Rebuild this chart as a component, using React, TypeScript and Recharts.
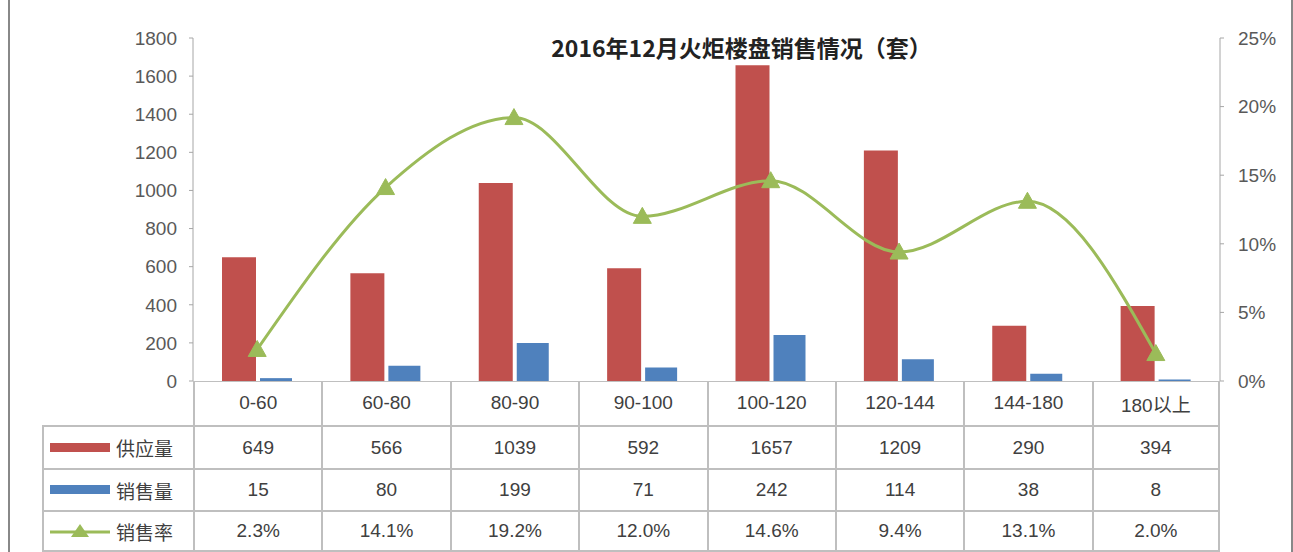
import React from 'react';
import { Bar, ComposedChart, Line, XAxis, YAxis } from 'recharts';

const categories = ['0-60', '60-80', '80-90', '90-100', '100-120', '120-144', '144-180', '180以上'];
const supply = [649, 566, 1039, 592, 1657, 1209, 290, 394];
const sales = [15, 80, 199, 71, 242, 114, 38, 8];
const rate = [2.3, 14.1, 19.2, 12.0, 14.6, 9.4, 13.1, 2.0];
const leftTicks = [0, 200, 400, 600, 800, 1000, 1200, 1400, 1600, 1800];
const rightTicks = [0, 5, 10, 15, 20, 25];

const RED = '#c0504d';
const BLUE = '#4f81bd';
const GREEN = '#9bbb59';
const GRID = '#bfbfbf';
const TEXT = '#595959';
const FONT = '"Liberation Sans Narrow", "Liberation Sans", "Noto Sans CJK SC", sans-serif';

const data = categories.map((name, i) => ({
  name,
  supply: supply[i],
  sales: sales[i],
  rate: rate[i]
}));

// plot area edges
const PLOT_LEFT = 193;
const PLOT_RIGHT = 1220;
const PLOT_TOP = 38;
const PLOT_BOTTOM = 381;
const CHART_H = 405;
const COL_W = (PLOT_RIGHT - PLOT_LEFT) / categories.length;

const Triangle = (props: any) => {
  const { cx, cy } = props;
  if (cx == null || cy == null) return null;
  return (
    <path
      d={`M${cx},${cy - 9} L${cx + 9},${cy + 7} L${cx - 9},${cy + 7} Z`}
      fill={GREEN}
      stroke={GREEN}
    />
  );
};

const rows = [
  { label: '供应量', values: supply.map(String), kind: 'bar', color: RED },
  { label: '销售量', values: sales.map(String), kind: 'bar', color: BLUE },
  { label: '销售率', values: rate.map((v) => v.toFixed(1) + '%'), kind: 'line', color: GREEN }
];

const rowTops = [425, 468, 510];
const rowH = [43, 42, 42];

const App: React.FC = () => {
  return (
    <div
      style={{
        position: 'absolute',
        left: 0,
        top: 0,
        width: 1293,
        height: 552,
        background: '#fff',
        fontFamily: FONT,
        overflow: 'hidden'
      }}
    >
      <div
        style={{
          position: 'absolute',
          left: 8,
          top: 0,
          width: 1281,
          height: 552,
          borderLeft: '2px solid #888',
          borderRight: '2px solid #888'
        }}
      />
      <ComposedChart
        width={1293}
        height={CHART_H}
        data={data}
        margin={{ top: PLOT_TOP, right: 0, left: 0, bottom: CHART_H - PLOT_BOTTOM }}
        barGap={4}
        style={{ position: 'absolute', left: 0, top: 0 }}
      >
        <XAxis dataKey="name" hide />
        <YAxis
          yAxisId="left"
          width={PLOT_LEFT}
          domain={[0, 1800]}
          ticks={leftTicks}
          interval={0}
          stroke="#a6a6a6"
          tickSize={4}
          tick={{ fill: TEXT, fontSize: 19, fontFamily: FONT }}
          tickMargin={12}
        />
        <YAxis
          yAxisId="right"
          orientation="right"
          width={1293 - PLOT_RIGHT}
          domain={[0, 25]}
          ticks={rightTicks}
          interval={0}
          stroke="#a6a6a6"
          tickSize={4}
          tickFormatter={(v) => `${v}%`}
          tick={{ fill: TEXT, fontSize: 19, fontFamily: FONT }}
          tickMargin={14}
        />
        <Bar yAxisId="left" dataKey="supply" fill={RED} barSize={34} isAnimationActive={false} />
        <Bar yAxisId="left" dataKey="sales" fill={BLUE} barSize={32} isAnimationActive={false} />
        <Line
          yAxisId="right"
          dataKey="rate"
          type="monotone"
          stroke={GREEN}
          strokeWidth={3}
          dot={<Triangle />}
          activeDot={false}
          isAnimationActive={false}
        />
      </ComposedChart>
      <div
        style={{
          position: 'absolute',
          left: 0,
          width: 1293,
          top: 30,
          paddingLeft: 190,
          textAlign: 'center',
          fontSize: 23,
          fontWeight: 'bold',
          color: '#222',
          fontFamily: '"Noto Sans CJK SC", sans-serif',
          boxSizing: 'border-box'
        }}
      >
        2016年12月火炬楼盘销售情况（套）
      </div>
      {/* x axis line */}
      <div
        style={{
          position: 'absolute',
          left: PLOT_LEFT,
          top: PLOT_BOTTOM,
          width: PLOT_RIGHT - PLOT_LEFT,
          height: 0,
          borderTop: `1px solid ${GRID}`
        }}
      />
      {/* header row with categories */}
      {categories.map((c, i) => (
        <div
          key={c}
          style={{
            position: 'absolute',
            left: PLOT_LEFT + i * COL_W,
            top: PLOT_BOTTOM,
            width: COL_W,
            height: 425 - PLOT_BOTTOM,
            borderLeft: `2px solid ${GRID}`,
            borderRight: i === categories.length - 1 ? `2px solid ${GRID}` : 'none',
            boxSizing: 'border-box',
            display: 'flex',
            alignItems: 'center',
            justifyContent: 'center',
            fontSize: 19,
            color: '#404040'
          }}
        >
          {c}
        </div>
      ))}
      {rows.map((r, ri) => (
        <React.Fragment key={r.label}>
          <div
            style={{
              position: 'absolute',
              left: 42,
              top: rowTops[ri],
              width: PLOT_LEFT - 42,
              height: rowH[ri],
              borderLeft: `2px solid ${GRID}`,
              borderTop: `2px solid ${GRID}`,
              borderBottom: ri === rows.length - 1 ? `2px solid ${GRID}` : 'none',
              boxSizing: 'border-box',
              display: 'flex',
              alignItems: 'center',
              fontSize: 19,
              color: '#404040',
              fontFamily: '"Noto Sans CJK SC", sans-serif'
            }}
          >
            <svg width={64} height={20} style={{ marginLeft: 6, marginRight: 2 }}>
              {r.kind === 'bar' ? (
                <rect x={0} y={5} width={60} height={9} fill={r.color} />
              ) : (
                <g>
                  <line x1={0} y1={11} x2={60} y2={11} stroke={r.color} strokeWidth={3} />
                  <path d="M30,3 L39,16 L21,16 Z" fill={r.color} />
                </g>
              )}
            </svg>
            {r.label}
          </div>
          {r.values.map((v, i) => (
            <div
              key={i}
              style={{
                position: 'absolute',
                left: PLOT_LEFT + i * COL_W,
                top: rowTops[ri],
                width: COL_W,
                height: rowH[ri],
                borderLeft: `2px solid ${GRID}`,
                borderTop: `2px solid ${GRID}`,
                borderRight: i === r.values.length - 1 ? `2px solid ${GRID}` : 'none',
                borderBottom: ri === rows.length - 1 ? `2px solid ${GRID}` : 'none',
                boxSizing: 'border-box',
                display: 'flex',
                alignItems: 'center',
                justifyContent: 'center',
                fontSize: 19,
                color: '#404040'
              }}
            >
              {v}
            </div>
          ))}
        </React.Fragment>
      ))}
    </div>
  );
};

export default App;
